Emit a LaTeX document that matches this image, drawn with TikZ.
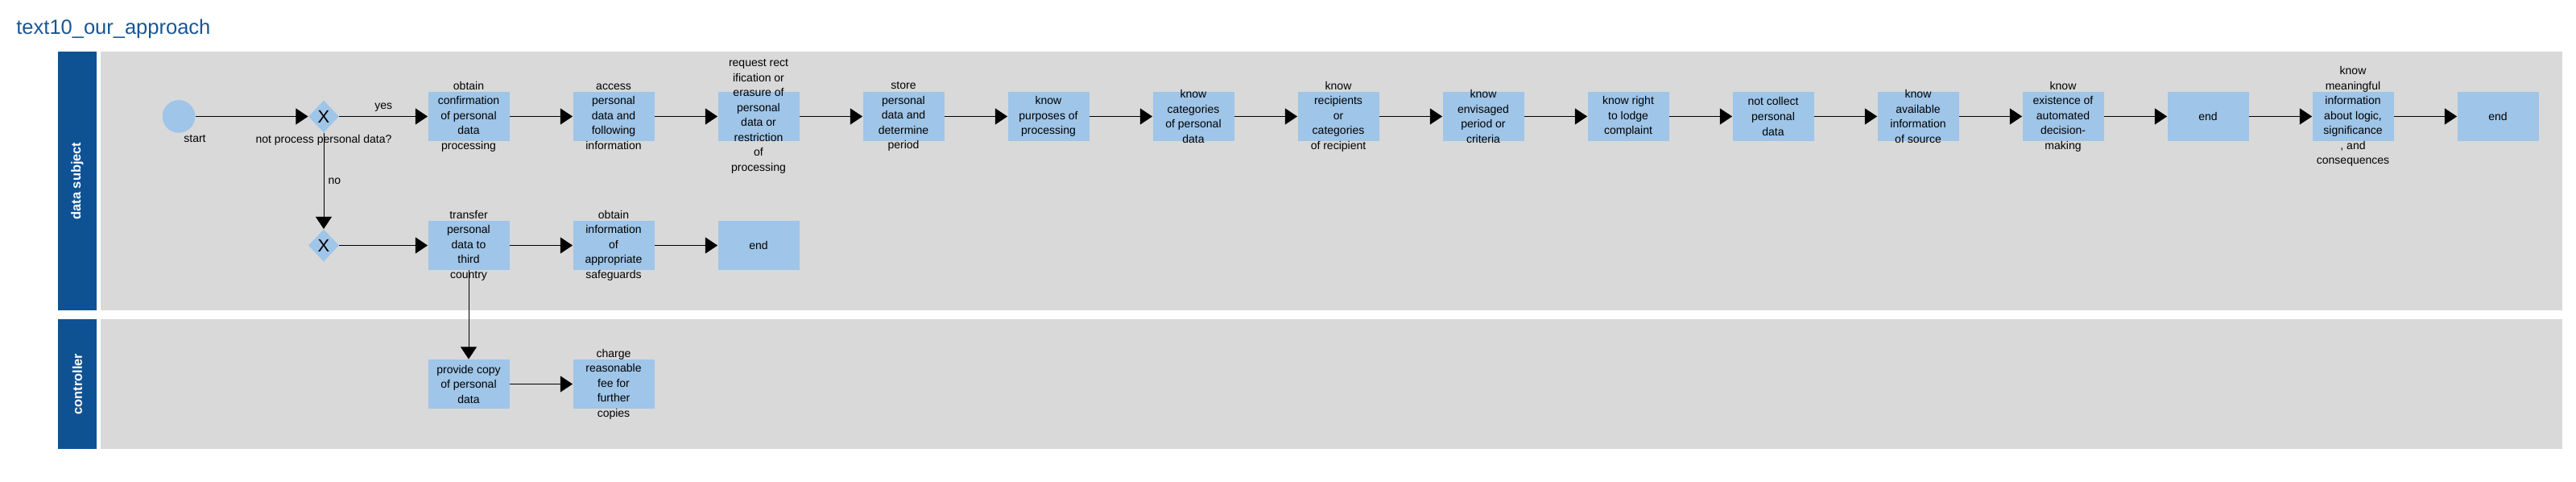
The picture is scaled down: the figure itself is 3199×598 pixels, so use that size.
\documentclass[tikz,border=0pt]{standalone}
\usepackage{fontspec}
\setmainfont{Liberation Sans}
\usetikzlibrary{positioning,shapes.geometric,arrows.meta}
\definecolor{lanegray}{RGB}{217,217,217}
\definecolor{laneblue}{RGB}{14,82,148}
\definecolor{taskblue}{RGB}{159,197,232}
\definecolor{titleblue}{RGB}{22,86,150}
\begin{document}
\begin{tikzpicture}[x=0.5pt,y=-0.5pt,
node distance=80pt and 90pt, on grid,
task/.style={
% The shape:
rectangle,
fill=taskblue,
minimum width=50.5pt,
minimum height=30.5pt,
inner sep=0pt
},
tasktext/.style={
font=\fontsize{7pt}{9.25pt}\selectfont,
align=center,
inner sep=0pt
},
event/.style={
circle,fill=taskblue,minimum size=20.3pt,inner sep=0pt
},
gateway/.style={
diamond,fill=taskblue,minimum width=19pt,minimum height=20pt,inner sep=0pt,
font=\fontsize{11pt}{11pt}\selectfont
},
lbl/.style={font=\fontsize{7pt}{9pt}\selectfont,inner sep=0pt},
lanetitle/.style={rotate=90,text=white,inner sep=0pt,
font=\bfseries\fontsize{8.2pt}{10pt}\selectfont},
flow/.style={-{Triangle[length=7.6pt,width=10pt]},line width=0.5pt}
]
\useasboundingbox (0,0) rectangle (3199,598);
\node (title) [anchor=base west,inner sep=0pt,text=titleblue,
  font=\fontsize{12.75pt}{14pt}\selectfont] at (20,43) {text10\_our\_approach};
% Lanes:
\fill[lanegray] (125,64) rectangle (3182,385);
\fill[lanegray] (125,396) rectangle (3182,557);
\fill[laneblue] (72,64) rectangle (120,385);
\fill[laneblue] (72,396) rectangle (120,557);
\node (subject) [lanetitle] at (96,224.5) {data subject};
\node (controller) [lanetitle] at (96,476.5) {controller};
% First row:
\node (start) [event,label={[lbl,xshift=10pt,yshift=-1pt]below:start}] at (222,144.5) {};
\node (gw1) [gateway,right=of start,label={[lbl,yshift=-1pt]below:not process personal data?}] {X};
\node (confirm) [task,right=of gw1,label={[tasktext]center:obtain\\confirmation\\of personal\\data\\processing}] {};
\node (access) [task,right=of confirm,label={[tasktext]center:access\\personal\\data and\\following\\information}] {};
\node (rectify) [task,right=of access,label={[tasktext]center:request rect\\ification or\\erasure of\\personal\\data or\\restriction\\of\\processing}] {};
\node (store) [task,right=of rectify,label={[tasktext]center:store\\personal\\data and\\determine\\period}] {};
\node (purposes) [task,right=of store,label={[tasktext]center:know\\purposes of\\processing}] {};
\node (categories) [task,right=of purposes,label={[tasktext]center:know\\categories\\of personal\\data}] {};
\node (recipients) [task,right=of categories,label={[tasktext]center:know\\recipients\\or\\categories\\of recipient}] {};
\node (period) [task,right=of recipients,label={[tasktext]center:know\\envisaged\\period or\\criteria}] {};
\node (complaint) [task,right=of period,label={[tasktext]center:know right\\to lodge\\complaint}] {};
\node (nocollect) [task,right=of complaint,label={[tasktext]center:not collect\\personal\\data}] {};
\node (source) [task,right=of nocollect,label={[tasktext]center:know\\available\\information\\of source}] {};
\node (automated) [task,right=of source,label={[tasktext]center:know\\existence of\\automated\\decision-\\making}] {};
\node (close) [task,right=of automated,label={[tasktext]center:end}] {};
\node (logic) [task,right=of close,label={[tasktext]center:know\\meaningful\\information\\about logic,\\significance\\, and\\consequences}] {};
\node (finish) [task,right=of logic,label={[tasktext]center:end}] {};
% Second row:
\node (gw2) [gateway,below=of gw1] {X};
\node (transfer) [task,right=of gw2,label={[tasktext]center:transfer\\personal\\data to\\third\\country}] {};
\node (safeguards) [task,right=of transfer,label={[tasktext]center:obtain\\information\\of\\appropriate\\safeguards}] {};
\node (halt) [task,right=of safeguards,label={[tasktext]center:end}] {};
% Controller lane:
\node (copy) [task,below=86pt of transfer,label={[tasktext]center:provide copy\\of personal\\data}] {};
\node (fee) [task,right=of copy,label={[tasktext]center:charge\\reasonable\\fee for\\further\\copies}] {};
\path (start) edge[flow] (gw1) (gw1) edge[flow] node[lbl,midway,above=3pt] {yes} (confirm) (confirm) edge[flow] (access) (access) edge[flow] (rectify) (rectify) edge[flow] (store) (store) edge[flow] (purposes) (purposes) edge[flow] (categories) (categories) edge[flow] (recipients) (recipients) edge[flow] (period) (period) edge[flow] (complaint) (complaint) edge[flow] (nocollect) (nocollect) edge[flow] (source) (source) edge[flow] (automated) (automated) edge[flow] (close) (close) edge[flow] (logic) (logic) edge[flow] (finish);
\path (gw1) edge[flow] node[lbl,midway,right=2.5pt] {no} (gw2) (gw2) edge[flow] (transfer) (transfer) edge[flow] (safeguards) (safeguards) edge[flow] (halt) (transfer) edge[flow] (copy) (copy) edge[flow] (fee);
\end{tikzpicture}
\end{document}
